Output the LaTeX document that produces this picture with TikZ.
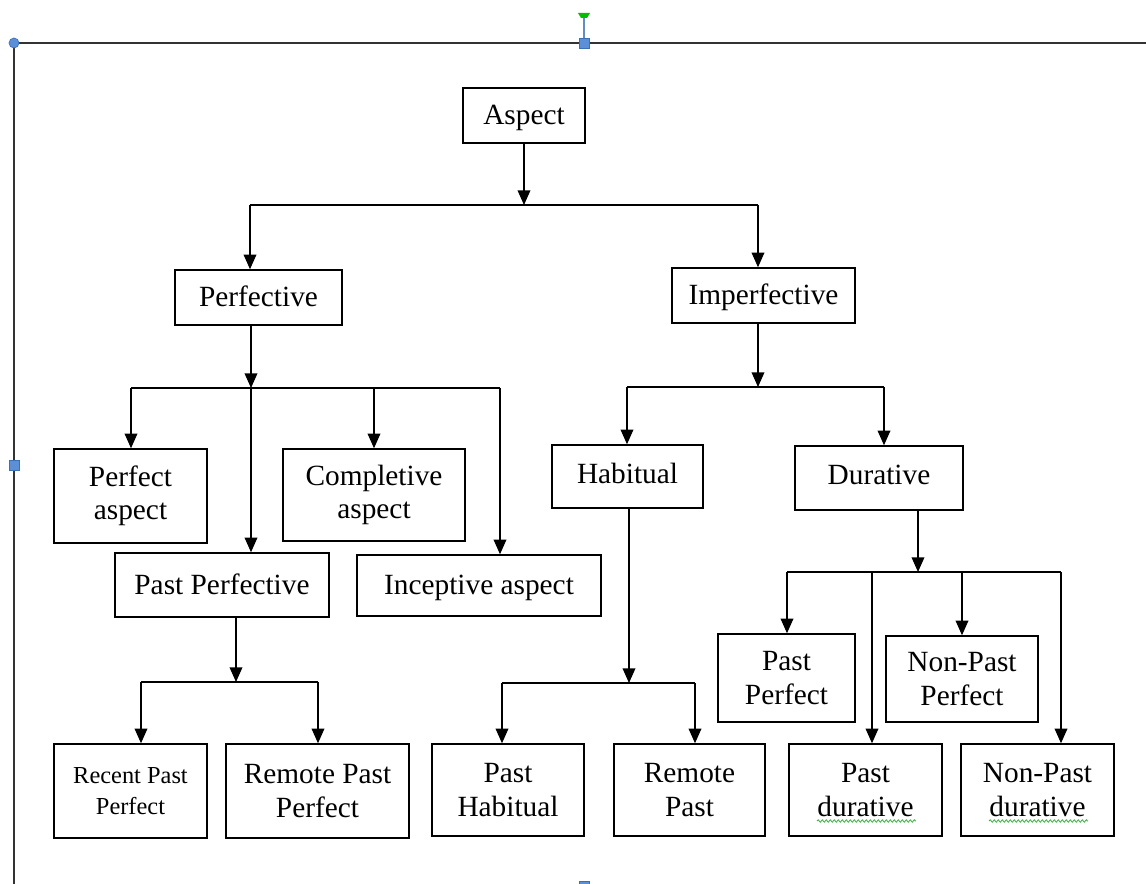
\documentclass[tikz,border=0pt]{standalone}
\usepackage{fontspec}
\setmainfont{Liberation Serif}
\usetikzlibrary{arrows.meta,decorations.pathmorphing}

\definecolor{handleblue}{HTML}{5B8FD8}
\definecolor{handleedge}{HTML}{3C6FB5}
\definecolor{spellgreen}{HTML}{3CB043}
\definecolor{framegray}{HTML}{333333}

\tikzset{
  box/.style={draw, line width=1.1pt, align=center, inner sep=0pt,
    font=\fontsize{22}{25}\selectfont},
  oneline/.style={text height=15pt, text depth=1pt},
  onelinehigh/.style={text height=15pt, text depth=5pt},
  smallbox/.style={box, font=\fontsize{18.3}{23}\selectfont},
  bsize/.style 2 args={minimum width=#1*0.75pt, minimum height=#2*0.75pt},
  ln/.style={line width=1.1pt},
  arr/.style={ln, -{Triangle[width=9.5pt,length=11pt]}},
  frameline/.style={draw=framegray, line width=1.5pt},
  handle/.style={fill=handleblue, draw=handleedge, line width=0.5pt},
  spell/.style={draw=spellgreen, line width=0.6pt,
    decorate, decoration={snake, amplitude=0.9pt, segment length=3pt}}
}

\begin{document}
\begin{tikzpicture}[x=0.75pt, y=-0.75pt]
\useasboundingbox (0,0) rectangle (1146,884);

% editing frame with its handles
\draw[frameline] (14,884) -- (14,43) -- (1146,43);
\draw[draw=handleedge!80, line width=1.2pt] (584,43) -- (584,17);
\fill[green!75!black] (578,13) -- (590,13) -- (587,18) -- (581,18) -- cycle;
\draw[handle] (579,38) rectangle (589,48);
\draw[handle] (9,460) rectangle (19,470);
\draw[handle] (579,881) rectangle (589,891);
\draw[handle] (14,43) circle (5);

% level 0 and 1
\node[box, oneline, bsize={122}{55}] (aspect) at (524,115.5) {Aspect};
\node[box, oneline, bsize={167}{55}] (perf) at (258.5,297.5) {Perfective};
\node[box, oneline, bsize={183}{55}] (imperf) at (763.5,295.5) {Imperfective};

% perfective branch
\node[box, bsize={153}{94}] (perfasp) at (130.5,496) {Perfect\\aspect};
\node[box, bsize={182}{92}] (compl) at (374,495) {Completive\\aspect};
\node[box, oneline, bsize={214}{64}] (pastperfv) at (222,585) {Past Perfective};
\node[box, oneline, bsize={244}{61}] (incep) at (479,585.5) {Inceptive aspect};
\node[smallbox, bsize={153}{94}] (recent) at (130.5,791) {Recent Past\\Perfect};
\node[box, bsize={183}{94}] (remotepf) at (317.5,791) {Remote Past\\Perfect};

% imperfective branch
\node[box, onelinehigh, bsize={151}{63}] (habit) at (627.5,476.5) {Habitual};
\node[box, onelinehigh, bsize={168}{64}] (durat) at (879,478) {Durative};
\node[box, bsize={152}{92}] (pasthab) at (508,790) {Past\\Habitual};
\node[box, bsize={151}{92}] (remote) at (689.5,790) {Remote\\Past};
\node[box, bsize={137}{88}] (pastpf) at (786.5,678) {Past\\Perfect};
\node[box, bsize={152}{86}] (nonpastpf) at (962,679) {Non-Past\\Perfect};
\node[box, bsize={153}{92}] (pastdur) at (865.5,790) {Past\\durative};
\node[box, bsize={153}{92}] (nonpastdur) at (1037.5,790) {Non-Past\\durative};

% junction points on the horizontal bars
\coordinate (j1) at (524,205);  \coordinate (j1l) at (250,205);  \coordinate (j1r) at (758,205);
\coordinate (j2) at (251,388);  \coordinate (j2l) at (131,388);  \coordinate (j2c) at (374,388);
\coordinate (j2r) at (500,388);
\coordinate (j3) at (758,387);  \coordinate (j3l) at (627,387);  \coordinate (j3r) at (884,387);
\coordinate (j4) at (918,572);  \coordinate (j4l) at (787,572);  \coordinate (j4a) at (872,572);
\coordinate (j4b) at (962,572); \coordinate (j4r) at (1061,572);
\coordinate (j5) at (236,682);  \coordinate (j5l) at (141,682);  \coordinate (j5r) at (318,682);
\coordinate (j6) at (629,683);  \coordinate (j6l) at (502,683);  \coordinate (j6r) at (695,683);

% Aspect
\draw[arr] (aspect.south) -- (j1);
\draw[ln] (j1l) -- (j1r);
\draw[arr] (j1l) -- (j1l |- perf.north);
\draw[arr] (j1r) -- (j1r |- imperf.north);

% Perfective
\draw[arr] (j2 |- perf.south) -- (j2);
\draw[ln] (j2l) -- (j2r);
\draw[arr] (j2l) -- (j2l |- perfasp.north);
\draw[arr] (j2) -- (j2 |- pastperfv.north);
\draw[arr] (j2c) -- (j2c |- compl.north);
\draw[arr] (j2r) -- (j2r |- incep.north);

% Past Perfective
\draw[arr] (j5 |- pastperfv.south) -- (j5);
\draw[ln] (j5l) -- (j5r);
\draw[arr] (j5l) -- (j5l |- recent.north);
\draw[arr] (j5r) -- (j5r |- remotepf.north);

% Imperfective
\draw[arr] (j3 |- imperf.south) -- (j3);
\draw[ln] (j3l) -- (j3r);
\draw[arr] (j3l) -- (j3l |- habit.north);
\draw[arr] (j3r) -- (j3r |- durat.north);

% Habitual
\draw[arr] (j6 |- habit.south) -- (j6);
\draw[ln] (j6l) -- (j6r);
\draw[arr] (j6l) -- (j6l |- pasthab.north);
\draw[arr] (j6r) -- (j6r |- remote.north);

% Durative
\draw[arr] (j4 |- durat.south) -- (j4);
\draw[ln] (j4l) -- (j4r);
\draw[arr] (j4l) -- (j4l |- pastpf.north);
\draw[arr] (j4a) -- (j4a |- pastdur.north);
\draw[arr] (j4b) -- (j4b |- nonpastpf.north);
\draw[arr] (j4r) -- (j4r |- nonpastdur.north);

% spell-check underlines under "durative"
\coordinate (w1a) at (817,821); \coordinate (w1b) at (916,821);
\coordinate (w2a) at (989,821); \coordinate (w2b) at (1088,821);
\draw[spell] (w1a) -- (w1b);
\draw[spell] (w2a) -- (w2b);
\end{tikzpicture}
\end{document}
